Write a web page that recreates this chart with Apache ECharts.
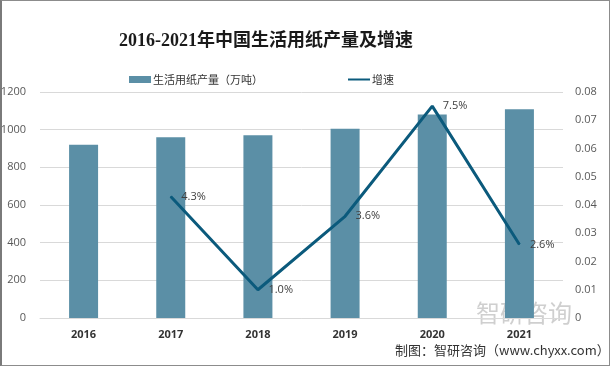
<!DOCTYPE html>
<html><head><meta charset="utf-8">
<script src="https://cdn.jsdelivr.net/npm/echarts@6/dist/echarts.min.js"></script>
<style>html,body{margin:0;padding:0;background:#fff}#c{width:610px;height:366px;box-sizing:border-box;border:1px solid #8c8c8c;border-left:2px solid #7a7a7a}</style>
</head><body><div id="c"></div>
<script>
const categories = ['2016','2017','2018','2019','2020','2021'];
const production = [920, 960, 970, 1005, 1080, 1108];
const growth = [null, 0.043, 0.010, 0.036, 0.075, 0.026];
const leftTicks = {min:0, max:1200, interval:200};
const rightTicks = {min:0, max:0.08, interval:0.01};

const chart = echarts.init(document.getElementById('c'));
chart.setOption({
  animation:false,
  title:{text:'2016-2021年中国生活用纸产量及增速', left:112, top:26,
    textStyle:{fontFamily:'"Liberation Serif","Noto Sans CJK SC",serif', fontSize:18, fontWeight:'bold', color:'#1a1a1a'}},
  legend:{top:68, left:122, itemGap:84, itemWidth:22, itemHeight:7,
    textStyle:{fontFamily:'"Noto Sans CJK SC",sans-serif', fontSize:11, color:'#333', padding:[0,0,0,-3]},
    data:[{name:'生活用纸产量（万吨）', icon:'rect'},
          {name:'增速', itemStyle:{opacity:0}}]},
  grid:{left:38, right:46, top:91, bottom:47, outerBoundsMode:'none', containLabel:false},
  xAxis:{type:'category', data:categories,
    axisLine:{lineStyle:{color:'#d9d9d9'}}, axisTick:{show:false},
    axisLabel:{color:'#333', fontSize:11, fontWeight:'bold', margin:11, fontFamily:'"Open Sans",sans-serif'}},
  yAxis:[
    {type:'value', min:leftTicks.min, max:leftTicks.max, interval:leftTicks.interval,
      axisLabel:{color:'#595959', fontSize:11, margin:14, fontFamily:'"Open Sans",sans-serif', formatter:v=>String(v)},
      splitLine:{lineStyle:{color:'#d9d9d9', width:1}}, axisLine:{show:false}, axisTick:{show:false}},
    {type:'value', min:rightTicks.min, max:rightTicks.max, interval:rightTicks.interval,
      axisLabel:{color:'#595959', fontSize:11, margin:12, fontFamily:'"Open Sans",sans-serif',
        formatter:v=> v===0 ? '0' : v.toFixed(2)},
      splitLine:{show:false}, axisLine:{show:false}, axisTick:{show:false}}
  ],
  series:[
    {name:'生活用纸产量（万吨）', type:'bar', data:production, barWidth:29,
      itemStyle:{color:'#5b8fa6'}},
    {name:'增速', type:'line', yAxisIndex:1, data:growth, symbol:'circle', symbolSize:1, showSymbol:true,
      lineStyle:{color:'#0b5a7c', width:3}, itemStyle:{color:'#0b5a7c'},
      label:{show:true, position:'right', distance:10, color:'#404040', fontSize:11, fontFamily:'"Open Sans",sans-serif',
        formatter:p=> (p.value*100).toFixed(1)+'%'}}
  ],
  graphic:[
    {type:'text', left:474, top:300, style:{text:'智研咨询', fill:'rgba(160,160,160,0.5)', fontSize:24, fontFamily:'"Noto Sans CJK SC",sans-serif'}},
    {type:'text', left:393, top:343, style:{text:'制图：智研咨询（www.chyxx.com）', fill:'#333', fontSize:13, fontFamily:'"Noto Sans CJK SC",sans-serif'}}
  ]
});
</script></body></html>
